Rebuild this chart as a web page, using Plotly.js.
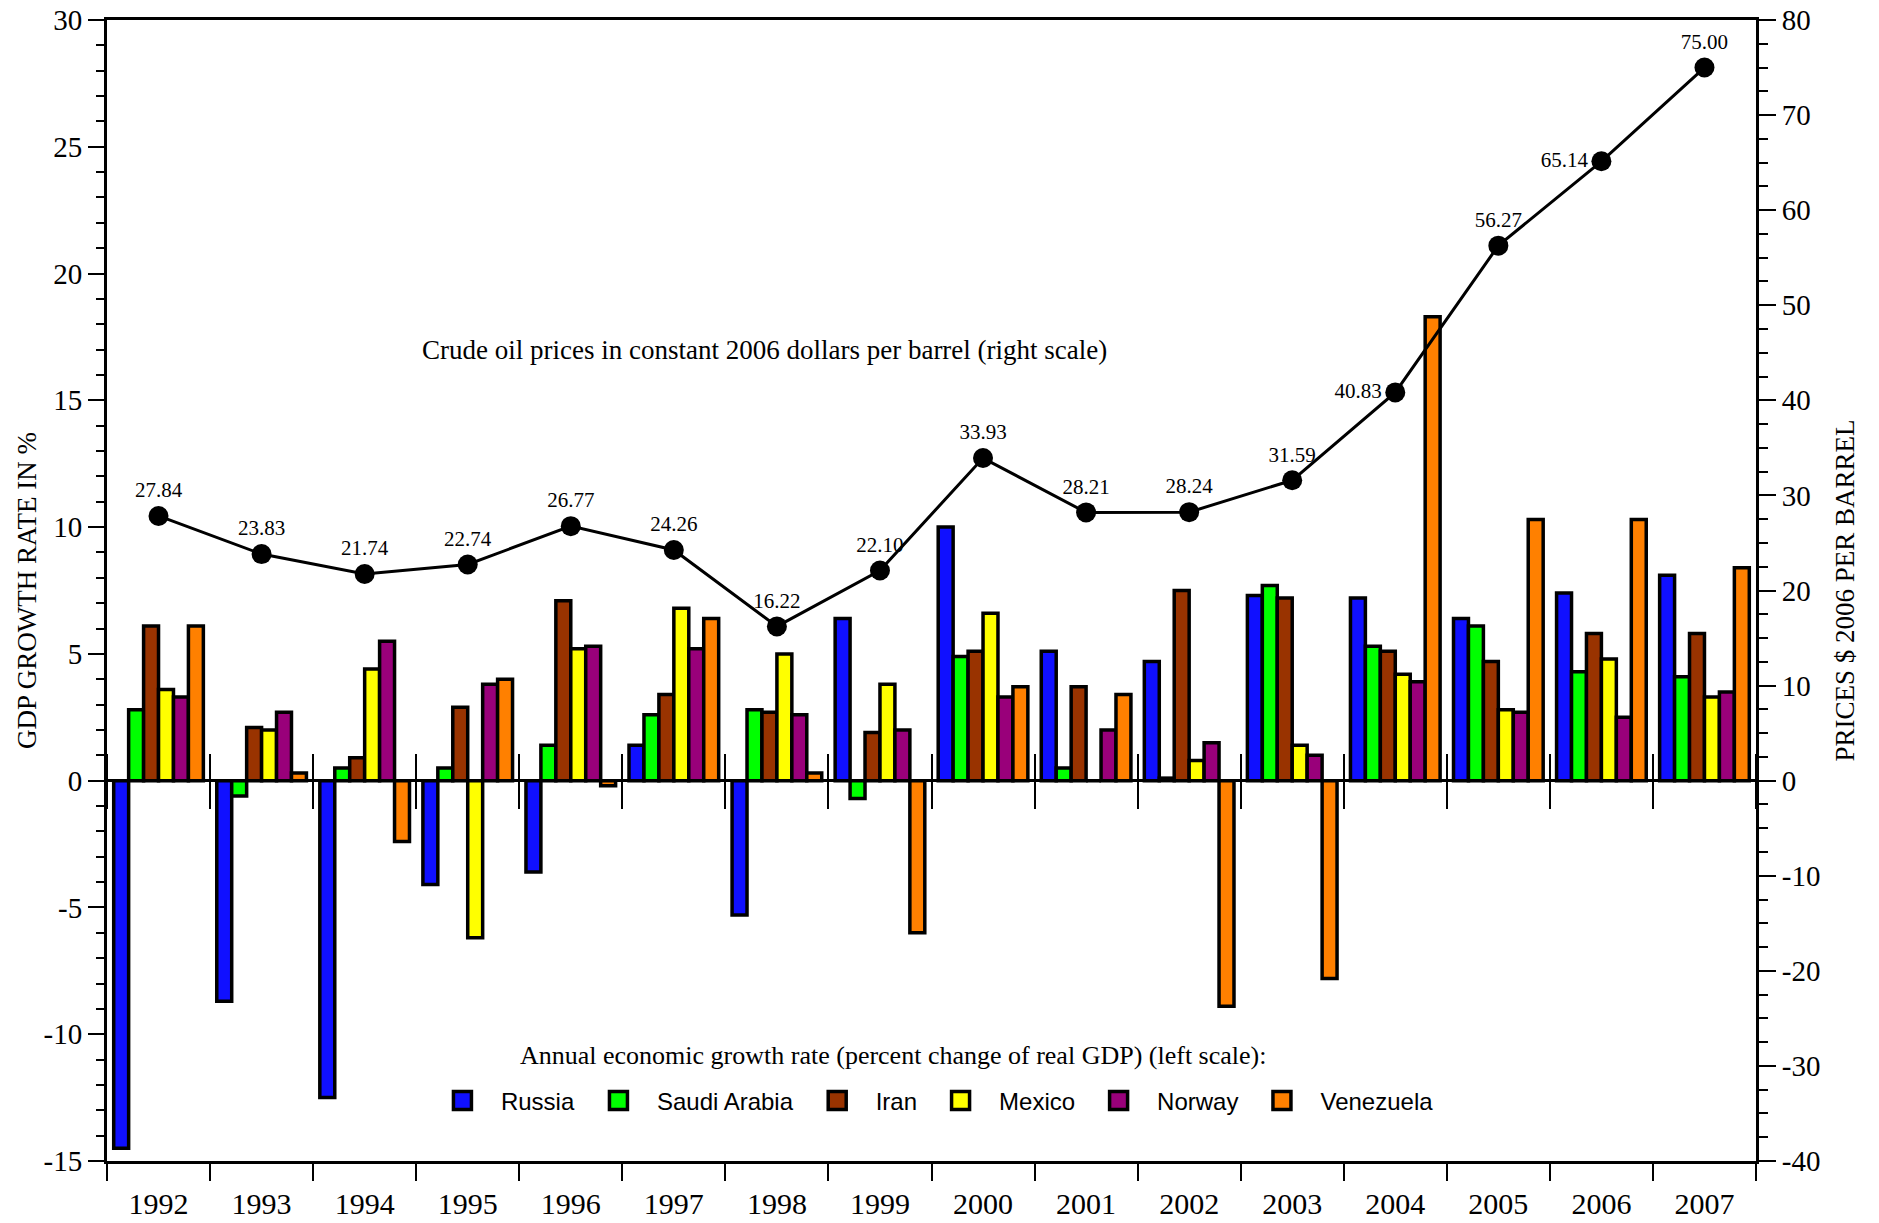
<!DOCTYPE html>
<html>
<head>
<meta charset="utf-8">
<script src="https://cdn.plot.ly/plotly-3.0.1.min.js"></script>
<style>
html, body { margin: 0; padding: 0; background: #ffffff; }
#chart { width: 1879px; height: 1223px; }
</style>
</head>
<body>
<div id="chart"></div>
<script>
// ---- Data ----
const years = ['1992','1993','1994','1995','1996','1997','1998','1999','2000','2001','2002','2003','2004','2005','2006','2007'];

// Annual GDP growth rate, % (left scale)
const russia    = [-14.5, -8.7, -12.5, -4.1, -3.6, 1.4, -5.3, 6.4, 10.0, 5.1, 4.7, 7.3, 7.2, 6.4, 7.4, 8.1];
const saudi     = [2.8, -0.6, 0.5, 0.5, 1.4, 2.6, 2.8, -0.7, 4.9, 0.5, 0.1, 7.7, 5.3, 6.1, 4.3, 4.1];
const iran      = [6.1, 2.1, 0.9, 2.9, 7.1, 3.4, 2.7, 1.9, 5.1, 3.7, 7.5, 7.2, 5.1, 4.7, 5.8, 5.8];
const mexico    = [3.6, 2.0, 4.4, -6.2, 5.2, 6.8, 5.0, 3.8, 6.6, 0.0, 0.8, 1.4, 4.2, 2.8, 4.8, 3.3];
const norway    = [3.3, 2.7, 5.5, 3.8, 5.3, 5.2, 2.6, 2.0, 3.3, 2.0, 1.5, 1.0, 3.9, 2.7, 2.5, 3.5];
const venezuela = [6.1, 0.3, -2.4, 4.0, -0.2, 6.4, 0.3, -6.0, 3.7, 3.4, -8.9, -7.8, 18.3, 10.3, 10.3, 8.4];

// Crude oil price, constant 2006 $ per barrel (right scale)
const oilPrice = [27.84, 23.83, 21.74, 22.74, 26.77, 24.26, 16.22, 22.10, 33.93, 28.21, 28.24, 31.59, 40.83, 56.27, 65.14, 75.00];

const countryNames = ['Russia', 'Saudi Arabia', 'Iran', 'Mexico', 'Norway', 'Venezuela'];

// Tick labels
const leftTickVals  = [-15, -10, -5, 0, 5, 10, 15, 20, 25, 30];
const leftTickText  = ['-15', '-10', '-5', '0', '5', '10', '15', '20', '25', '30'];
const rightTickVals = [-40, -30, -20, -10, 0, 10, 20, 30, 40, 50, 60, 70, 80];
const rightTickText = ['-40', '-30', '-20', '-10', '0', '10', '20', '30', '40', '50', '60', '70', '80'];

// Texts
const lineNote = 'Crude oil prices in constant 2006 dollars per barrel (right scale)';
const barNote  = 'Annual economic growth rate (percent change of real GDP) (left scale):';
const leftTitle  = 'GDP GROWTH RATE IN %';
const rightTitle = 'PRICES $ 2006 PER BARREL';

// ---- Styling ----
const colors = ['#1010ff', '#00ff00', '#993300', '#ffff00', '#99007a', '#ff8000'];
const serif = 'Liberation Serif, Times New Roman, serif';
const sans  = 'Liberation Sans, Arial, sans-serif';

const series = [russia, saudi, iran, mexico, norway, venezuela];
const traces = series.map((vals, i) => ({
  type: 'bar',
  name: countryNames[i],
  x: years,
  y: vals,
  xaxis: 'x',
  yaxis: 'y',
  marker: { color: colors[i], line: { color: '#000000', width: 3.5 } },
  hoverinfo: 'x+y+name'
}));

const labelPositions = oilPrice.map((v, i) => (i === 12 || i === 14) ? 'middle left' : 'top center');

traces.push({
  type: 'scatter',
  mode: 'lines+markers+text',
  name: 'Crude oil price',
  showlegend: false,
  x: years,
  y: oilPrice,
  xaxis: 'x2',
  yaxis: 'y2',
  line: { color: '#000000', width: 3 },
  marker: { color: '#000000', size: 20 },
  text: oilPrice.map(v => v.toFixed(2)),
  textposition: labelPositions,
  textfont: { family: serif, size: 21, color: '#000000' },
  cliponaxis: false
});

const plotH = 1223 - 20 - 62;
const zeroFrac = 1 / 3;           // y = 0 sits one third up the plot area
const crossHalf = 27.5 / plotH;   // half length of the boundary marks crossing the zero line

const layout = {
  width: 1879,
  height: 1223,
  margin: { l: 107, r: 123, t: 20, b: 62, pad: 0 },
  paper_bgcolor: '#ffffff',
  plot_bgcolor: '#ffffff',
  font: { family: serif, color: '#000000' },
  barmode: 'group',
  bargap: 0.13,
  bargroupgap: 0,
  showlegend: true,
  legend: {
    orientation: 'h',
    x: 0.1922, xanchor: 'left',
    y: 0.0526, yanchor: 'middle',
    itemwidth: 67,
    font: { family: sans, size: 24, color: '#000000' },
    bgcolor: 'rgba(0,0,0,0)'
  },
  xaxis: {
    type: 'category',
    categoryorder: 'array',
    categoryarray: years,
    range: [-0.5, 15.5],
    showline: true, linewidth: 3, linecolor: '#000000', mirror: true,
    ticks: 'outside', tickson: 'boundaries', ticklen: 17, tickwidth: 2, tickcolor: '#000000',
    ticklabelstandoff: 14,
    tickfont: { family: serif, size: 30, color: '#000000' },
    showgrid: false, zeroline: false
  },
  xaxis2: {
    type: 'category',
    categoryorder: 'array',
    categoryarray: years,
    range: [-0.5, 15.5],
    overlaying: 'x', anchor: 'free', position: zeroFrac + crossHalf, side: 'bottom',
    ticks: 'outside', tickson: 'boundaries', ticklen: 55, tickwidth: 2, tickcolor: '#000000',
    showticklabels: false, showline: false, showgrid: false, zeroline: false
  },
  yaxis: {
    range: [-15, 30],
    tickmode: 'array', tickvals: leftTickVals, ticktext: leftTickText,
    ticks: 'outside', ticklen: 16, tickwidth: 2, tickcolor: '#000000',
    minor: { dtick: 1, tick0: 0, ticks: 'outside', ticklen: 8, tickwidth: 2, tickcolor: '#000000', showgrid: false },
    showline: true, linewidth: 3, linecolor: '#000000',
    zeroline: true, zerolinewidth: 3, zerolinecolor: '#000000',
    showgrid: false,
    tickfont: { family: serif, size: 29, color: '#000000' },
    title: { text: leftTitle, font: { family: serif, size: 27, color: '#000000' }, standoff: 0 }
  },
  yaxis2: {
    overlaying: 'y', side: 'right', anchor: 'x',
    range: [-40, 80],
    tickmode: 'array', tickvals: rightTickVals, ticktext: rightTickText,
    ticks: 'outside', ticklen: 17, tickwidth: 2, tickcolor: '#000000',
    minor: { dtick: 2.5, tick0: 0, ticks: 'outside', ticklen: 9, tickwidth: 2, tickcolor: '#000000', showgrid: false },
    showline: true, linewidth: 3, linecolor: '#000000',
    zeroline: false, showgrid: false,
    tickfont: { family: serif, size: 29, color: '#000000' },
    title: { text: rightTitle, font: { family: serif, size: 27, color: '#000000' }, standoff: 16 }
  },
  annotations: [
    { text: lineNote, xref: 'paper', yref: 'paper', x: 0.399, y: 0.711, xanchor: 'center', yanchor: 'middle',
      showarrow: false, font: { family: serif, size: 27, color: '#000000' } },
    { text: barNote, xref: 'paper', yref: 'paper', x: 0.4768, y: 0.0923, xanchor: 'center', yanchor: 'middle',
      showarrow: false, font: { family: serif, size: 26, color: '#000000' } }
  ]
};

const gd = document.getElementById('chart');

// Enlarge the legend colour boxes to the size used in the reference
function enlargeLegendBoxes() {
  gd.querySelectorAll('.legend .legendpoints path').forEach(p => {
    p.setAttribute('d', 'M9,9H-9V-9H9Z');
  });
}

Plotly.newPlot(gd, traces, layout, { displayModeBar: false, responsive: false }).then(() => {
  enlargeLegendBoxes();
  gd.on('plotly_afterplot', enlargeLegendBoxes);
});
</script>
</body>
</html>
